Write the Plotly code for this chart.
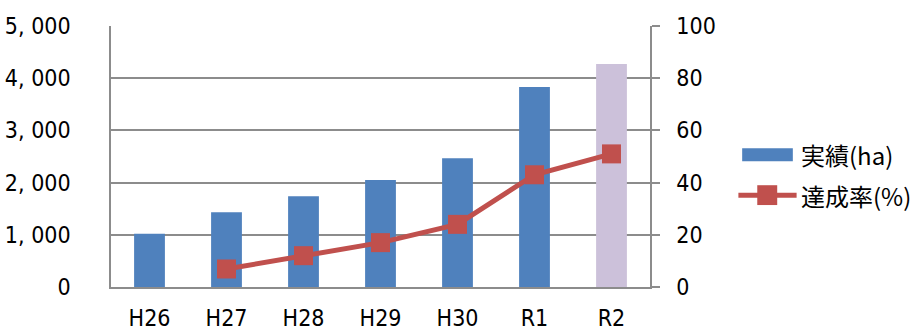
import plotly.graph_objects as go

# Fiscal years
years = ["H26", "H27", "H28", "H29", "H30", "R1", "R2"]
# Area achieved (ha)
area_ha = [1020, 1430, 1740, 2050, 2465, 3830, 4270]
# Achievement rate (%)
rate_years = ["H27", "H28", "H29", "H30", "R1", "R2"]
rate_pct = [6.9, 12, 17, 24, 43, 51]

bar_colors = ["#4F81BD"] * 6 + ["#CCC1DA"]
left_ticks = [0, 1000, 2000, 3000, 4000, 5000]
left_tick_text = ["0", "1, 000", "2, 000", "3, 000", "4, 000", "5, 000"]
right_ticks = [0, 20, 40, 60, 80, 100]

num_font = dict(family="DejaVu Sans Condensed, Liberation Sans Narrow, Liberation Sans, sans-serif",
                size=23, color="#000000")
jp_font = dict(family="Noto Sans CJK JP, sans-serif", size=24, color="#000000")
grid = "#8C8C8C"
blue = "#4F81BD"
red = "#C0504D"

fig = go.Figure()
fig.add_trace(go.Bar(x=years, y=area_ha, marker=dict(color=bar_colors, line=dict(width=0)),
                     width=0.4, name="実績(ha)", showlegend=False))
fig.add_trace(go.Scatter(x=rate_years, y=rate_pct, yaxis="y2", mode="lines+markers",
                         line=dict(color=red, width=5),
                         marker=dict(symbol="square", size=19, color=red),
                         name="達成率(%)", showlegend=False))

fig.update_layout(
    width=913, height=334,
    margin=dict(l=111, r=263, t=26, b=47),
    paper_bgcolor="white", plot_bgcolor="white",
    xaxis=dict(type="category", categoryorder="array", categoryarray=years, automargin=False,
               showline=True, linecolor=grid, linewidth=1.5, showgrid=False,
               ticks="", tickfont=num_font, ticklabelstandoff=10, range=[-0.5, 6.5]),
    yaxis=dict(range=[0, 5000], tickvals=left_ticks, ticktext=left_tick_text, automargin=False,
               showline=True, linecolor=grid, linewidth=1.5,
               showgrid=True, gridcolor=grid, gridwidth=1.5, zeroline=False,
               ticks="", tickfont=num_font, ticklabelstandoff=34),
    yaxis2=dict(range=[0, 100], tickvals=right_ticks, overlaying="y", side="right", automargin=False,
                showline=True, linecolor=grid, linewidth=1.5, showgrid=False, zeroline=False,
                ticks="outside", ticklen=8, tickcolor=grid, tickwidth=1.5,
                tickfont=num_font, ticklabelstandoff=12),
    showlegend=False,
)

# Legend drawn beside the plot area
lx0, lx1 = 1.171, 1.265
fig.add_shape(type="rect", xref="paper", yref="paper", x0=lx0, x1=lx1,
              y0=0.482, y1=0.532, fillcolor=blue, line=dict(width=0))
fig.add_shape(type="line", xref="paper", yref="paper", x0=lx0 - 0.007, x1=lx1 + 0.007,
              y0=0.352, y1=0.352, line=dict(color=red, width=5))
fig.add_shape(type="rect", xref="paper", yref="paper", x0=1.199, x1=1.236,
              y0=0.314, y1=0.390, fillcolor=red, line=dict(width=0))
fig.add_annotation(xref="paper", yref="paper", x=1.276, y=0.507, xanchor="left",
                   yanchor="middle", text="実績(ha)", showarrow=False, font=jp_font)
fig.add_annotation(xref="paper", yref="paper", x=1.276, y=0.352, xanchor="left",
                   yanchor="middle", text="達成率(%)", showarrow=False, font=jp_font)

fig.write_html("out.html")
